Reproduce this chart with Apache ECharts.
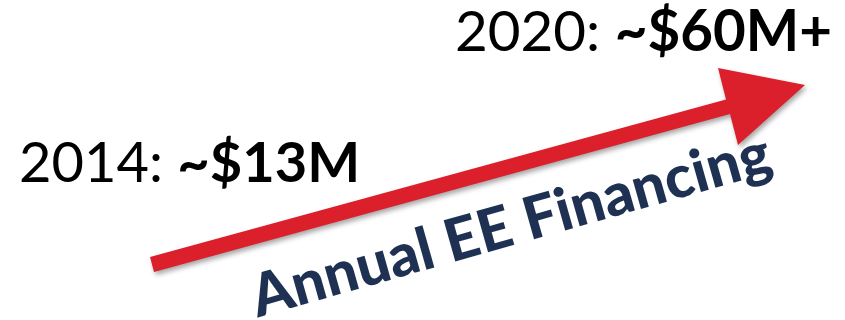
<!DOCTYPE html>
<html>
<head>
<meta charset="utf-8">
<style>
  html, body { margin: 0; padding: 0; background: #ffffff; }
  #chart { width: 845px; height: 320px; }
</style>
<script src="https://cdn.jsdelivr.net/npm/echarts@6/dist/echarts.min.js"></script>
</head>
<body>
<div id="chart"></div>
<script>
// Annual energy-efficiency financing, start and target
const years = ['2014', '2020'];
const amounts = ['~$13M', '~$60M+'];
const trendLabel = 'Annual EE Financing';

const FONT = 'Lato, "Open Sans", sans-serif';
const RED = '#db1f2b';
const NAVY = '#1f3152';

const chart = echarts.init(document.getElementById('chart'), null, { renderer: 'canvas' });

function yearLabel(i, x, y, size) {
  return {
    type: 'text',
    x: x,
    y: y,
    style: {
      text: '{r|' + years[i] + ': }{b|' + amounts[i] + '}',
      align: 'left',
      verticalAlign: 'middle',
      rich: {
        r: { fontFamily: FONT, fontSize: size, fontWeight: 'normal', fill: '#000000' },
        b: { fontFamily: FONT, fontSize: size, fontWeight: 'bold', fill: '#000000' }
      }
    }
  };
}

chart.setOption({
  backgroundColor: '#ffffff',
  animation: false,
  graphic: [
    {
      // growth arrow
      type: 'polygon',
      shape: {
        points: [
          [150, 257], [726, 99.5], [718, 68], [805, 85],
          [738, 145], [730, 114], [154, 272]
        ]
      },
      style: {
        fill: RED,
        shadowBlur: 5,
        shadowOffsetX: 2,
        shadowOffsetY: 3,
        shadowColor: 'rgba(0,0,0,0.35)'
      }
    },
    yearLabel(0, 19, 164, 56),
    yearLabel(1, 455, 33, 56.5),
    {
      type: 'text',
      x: 511,
      y: 226,
      rotation: 15.8 * Math.PI / 180,
      style: {
        text: trendLabel,
        fontFamily: FONT,
        fontSize: 59,
        fontWeight: 900,
        fill: NAVY,
        align: 'center',
        verticalAlign: 'middle'
      }
    }
  ]
});
</script>
</body>
</html>
